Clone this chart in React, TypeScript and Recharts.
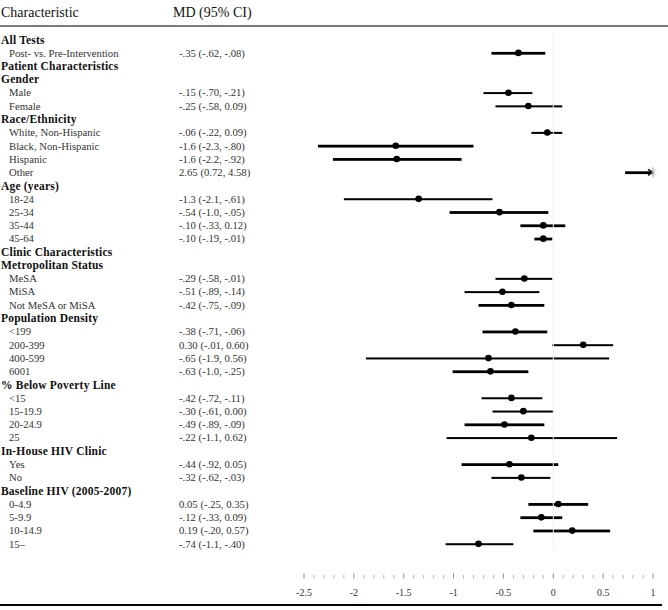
import { ComposedChart, Bar, Line, XAxis, YAxis, ReferenceLine, ReferenceDot } from "recharts";

const SERIF = '"Liberation Serif", "Times New Roman", serif';

// Row labels, top to bottom (group headers carry no estimate)
const LABELS = [
  "All Tests", "Post- vs. Pre-Intervention",
  "Patient Characteristics", "Gender", "Male", "Female",
  "Race/Ethnicity", "White, Non-Hispanic", "Black, Non-Hispanic", "Hispanic", "Other",
  "Age (years)", "18-24", "25-34", "35-44", "45-64",
  "Clinic Characteristics", "Metropolitan Status", "MeSA", "MiSA", "Not MeSA or MiSA",
  "Population Density", "<199", "200-399", "400-599", "6001",
  "% Below Poverty Line", "<15", "15-19.9", "20-24.9", "25",
  "In-House HIV Clinic", "Yes", "No",
  "Baseline HIV (2005-2007)", "0-4.9", "5-9.9", "10-14.9", "15–",
];

const HEADERS = new Set([
  "All Tests", "Patient Characteristics", "Gender", "Race/Ethnicity", "Age (years)",
  "Clinic Characteristics", "Metropolitan Status", "Population Density",
  "% Below Poverty Line", "In-House HIV Clinic", "Baseline HIV (2005-2007)",
]);

// printed MD (95% CI) column
const MD_TEXT = [
  "", "-.35 (-.62, -.08)",
  "", "", "-.15 (-.70, -.21)", "-.25 (-.58, 0.09)",
  "", "-.06 (-.22, 0.09)", "-1.6 (-2.3, -.80)", "-1.6 (-2.2, -.92)", "2.65 (0.72, 4.58)",
  "", "-1.3 (-2.1, -.61)", "-.54 (-1.0, -.05)", "-.10 (-.33, 0.12)", "-.10 (-.19, -.01)",
  "", "", "-.29 (-.58, -.01)", "-.51 (-.89, -.14)", "-.42 (-.75, -.09)",
  "", "-.38 (-.71, -.06)", "0.30 (-.01, 0.60)", "-.65 (-1.9, 0.56)", "-.63 (-1.0, -.25)",
  "", "-.42 (-.72, -.11)", "-.30 (-.61, 0.00)", "-.49 (-.89, -.09)", "-.22 (-1.1, 0.62)",
  "", "-.44 (-.92, 0.05)", "-.32 (-.62, -.03)",
  "", "0.05 (-.25, 0.35)", "-.12 (-.33, 0.09)", "0.19 (-.20, 0.57)", "-.74 (-1.1, -.40)",
];

// plotted estimates and CI bounds
const MD = [
  null, -0.35,
  null, null, -0.45, -0.25,
  null, -0.06, -1.58, -1.57, 2.65,
  null, -1.35, -0.54, -0.10, -0.10,
  null, null, -0.29, -0.51, -0.42,
  null, -0.38, 0.30, -0.65, -0.63,
  null, -0.42, -0.30, -0.49, -0.22,
  null, -0.44, -0.32,
  null, 0.05, -0.12, 0.19, -0.75,
];
const CI_LOW = [
  null, -0.62,
  null, null, -0.70, -0.58,
  null, -0.22, -2.36, -2.21, 0.72,
  null, -2.10, -1.04, -0.33, -0.19,
  null, null, -0.58, -0.89, -0.75,
  null, -0.71, -0.01, -1.88, -1.01,
  null, -0.72, -0.61, -0.89, -1.07,
  null, -0.92, -0.62,
  null, -0.25, -0.33, -0.20, -1.08,
];
const CI_HIGH = [
  null, -0.08,
  null, null, -0.21, 0.09,
  null, 0.09, -0.80, -0.92, 4.58,
  null, -0.61, -0.05, 0.12, -0.01,
  null, null, -0.01, -0.14, -0.09,
  null, -0.06, 0.60, 0.56, -0.25,
  null, -0.11, 0.00, -0.09, 0.64,
  null, 0.05, -0.03,
  null, 0.35, 0.09, 0.57, -0.40,
];

// x axis: minor ticks every 0.1, labels every 0.5
const X_TICKS = Array.from({ length: 36 }, (_, i) => Math.round((-2.5 + i * 0.1) * 10) / 10);

// rows drawn with the heavier CI line
const THICK = new Set([
  "Post- vs. Pre-Intervention", "Black, Non-Hispanic", "Hispanic", "Other",
  "25-34", "35-44", "45-64", "Not MeSA or MiSA", "<199", "6001",
  "20-24.9", "Yes", "0-4.9", "5-9.9", "10-14.9",
]);

const rows = LABELS.map((label, i) => ({
  label,
  md: MD[i],
  ci: MD[i] == null ? null : [CI_LOW[i], CI_HIGH[i]],
}));

const PLOT_RIGHT = 653;

const RowTick = (props: any) => {
  const { y, payload } = props;
  const i = LABELS.indexOf(payload.value);
  const label = LABELS[i];
  if (HEADERS.has(label)) {
    return (
      <text x={1} y={y} dy="0.35em" fontFamily={SERIF} fontSize={11.5} fontWeight="bold"
        letterSpacing={0.2} fill="#111">{label}</text>
    );
  }
  return (
    <g>
      <text x={9} y={y} dy="0.35em" fontFamily={SERIF} fontSize={10.7} fill="#333">{label}</text>
      <text x={179} y={y} dy="0.35em" fontFamily={SERIF} fontSize={10.7} fill="#333">{MD_TEXT[i]}</text>
    </g>
  );
};

const AxisTick = (props: any) => {
  const { x, y, payload } = props;
  const v = payload.value;
  const major = Math.abs(v * 2 - Math.round(v * 2)) < 1e-6;
  return (
    <g>
      <line x1={x} x2={x} y1={y + (major ? 23 : 24.5)} y2={y + 28} stroke={major ? "#888" : "#b5b5b5"} strokeWidth={1} />
      {major && (
        <text x={x} y={y + 45} textAnchor="middle" fontFamily={SERIF} fontSize={10} fill="#333">
          {String(v)}
        </text>
      )}
    </g>
  );
};

const CiShape = (props: any) => {
  const { x, y, width, height, payload } = props;
  if (!payload || !payload.ci) return null;
  const t = THICK.has(payload.label) ? 2.8 : 2;
  const right = Math.min(x + width, PLOT_RIGHT);
  return <rect x={x} y={y + height / 2 - t / 2} width={Math.max(right - x, 0)} height={t} fill="#000" />;
};

const OverflowMark = (props: any) => {
  const { cx, cy } = props;
  return (
    <g>
      <path d={`M${cx - 5},${cy - 3} L${cx},${cy} L${cx - 5},${cy + 3}`} stroke="#000" strokeWidth={1.5} fill="none" />
      <line x1={cx} x2={cx} y1={cy - 5} y2={cy + 5} stroke="#999" strokeWidth={1} />
      <line x1={cx - 3} x2={cx + 3} y1={cy - 3} y2={cy + 3} stroke="#bbb" strokeWidth={1} />
      <line x1={cx - 3} x2={cx + 3} y1={cy + 3} y2={cy - 3} stroke="#bbb" strokeWidth={1} />
    </g>
  );
};

export default function App() {
  return (
    <div style={{ position: "absolute", left: 0, top: 0, width: 668, height: 610, background: "#fff", overflow: "hidden" }}>
      <div style={{ position: "absolute", left: 1, top: 5, fontFamily: SERIF, fontSize: 14, color: "#111" }}>Characteristic</div>
      <div style={{ position: "absolute", left: 173, top: 5, fontFamily: SERIF, fontSize: 14, color: "#111" }}>MD (95% CI)</div>
      <div style={{ position: "absolute", left: 0, top: 25, width: 668, height: 1.5, background: "#7a7a7a" }} />
      <div style={{ position: "absolute", left: 0, top: 604, width: 662, height: 2, background: "#000" }} />

      <ComposedChart
        width={668}
        height={610}
        data={rows}
        layout="vertical"
        margin={{ top: 33, right: 668 - PLOT_RIGHT, bottom: 0, left: 0 }}
      >
        <XAxis
          type="number"
          domain={[-2.5, 1]}
          allowDataOverflow
          ticks={X_TICKS}
          interval={0}
          height={59.5}
          axisLine={false}
          tickLine={false}
          tickSize={0}
          tickMargin={0}
          tick={<AxisTick />}
        />
        <YAxis
          type="category"
          dataKey="label"
          width={304}
          interval={0}
          axisLine={false}
          tickLine={false}
          tick={<RowTick />}
        />
        <ReferenceLine x={0} stroke="#f0f0f0" strokeWidth={1} />
        <Bar dataKey="ci" barSize={4} shape={<CiShape />} isAnimationActive={false} />
        <Line
          dataKey="md"
          stroke="none"
          dot={{ r: 3.3, fill: "#000", stroke: "#000", strokeWidth: 0 }}
          activeDot={false}
          isAnimationActive={false}
        />
        <ReferenceDot x={1} y="Other" ifOverflow="visible" shape={<OverflowMark />} />
      </ComposedChart>
    </div>
  );
}
